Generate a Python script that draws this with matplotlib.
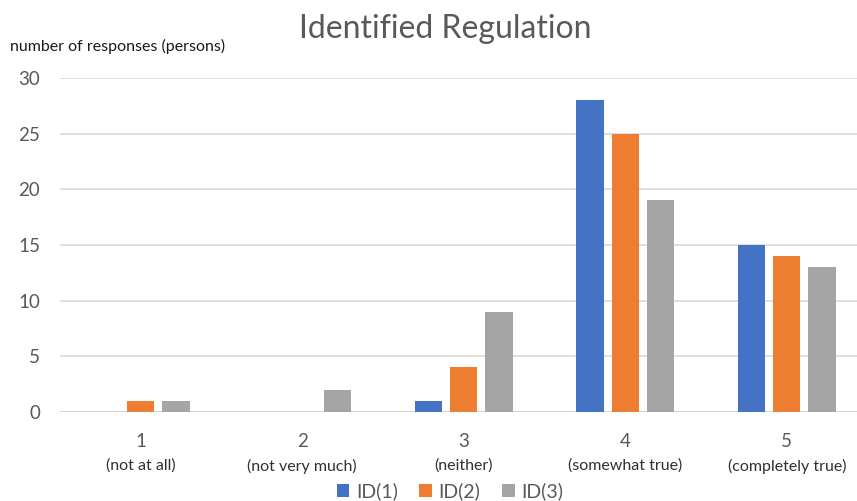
import matplotlib.pyplot as plt
import numpy as np

plt.rcParams["font.family"] = ["Lato", "DejaVu Sans"]

categories = ["1", "2", "3", "4", "5"]
descriptions = ["(not at all)", "(not very much)", "(neither)", "(somewhat true)", "(completely true)"]
series_names = ["ID(1)", "ID(2)", "ID(3)"]
id1 = [0, 0, 1, 28, 15]
id2 = [1, 0, 4, 25, 14]
id3 = [1, 2, 9, 19, 13]
colors = ["#4472C4", "#ED7D31", "#A5A5A5"]

W, H = 857, 501
fig = plt.figure(figsize=(W / 100, H / 100), dpi=100)
ax = fig.add_axes([60 / W, 1 - 412 / H, 807.5 / W, 334 / H])

x = np.arange(len(categories))
width = 0.17
step = 0.217
for i, (vals, name, c) in enumerate(zip([id1, id2, id3], series_names, colors)):
    ax.bar(x + (i - 1) * step, vals, width, color=c, label=name, zorder=3)

ax.set_xlim(-0.5, 4.5)
ax.set_ylim(0, 30)
ax.set_yticks(range(0, 31, 5))
ax.yaxis.grid(True, color="#D9D9D9", linewidth=1.2, zorder=0)
ax.axhline(0, color="#D0D0D0", linewidth=1.8, zorder=2)
for s in ax.spines.values():
    s.set_visible(False)
ax.tick_params(axis="y", length=0, colors="#595959", labelsize=13.5, pad=14.4)

# category numbers and their descriptions under the axis
ax.set_xticks(x)
ax.set_xticklabels([])
ax.tick_params(axis="x", length=0)
for xi, cat, d in zip(x, categories, descriptions):
    ax.annotate(cat, xy=(xi, 0), xycoords=("data", "axes fraction"),
                xytext=(0, -29.5 * 0.72), textcoords="offset points",
                ha="center", va="center", fontsize=13.5, color="#595959")
    ax.annotate(d, xy=(xi, 0), xycoords=("data", "axes fraction"),
                xytext=(0, -54 * 0.72), textcoords="offset points",
                ha="center", va="center", fontsize=11.5, color="#303030")

fig.text(445 / W, 1 - 29 / H, "Identified Regulation", ha="center", va="center",
         fontsize=23, color="#595959")
fig.text(10 / W, 1 - 46 / H, "number of responses (persons)", ha="left", va="center",
         fontsize=11.5, color="#1a1a1a")

fig.legend(loc="center", bbox_to_anchor=(450 / W, 1 - 491 / H), ncol=3, frameon=False,
           fontsize=14, handlelength=0.65, handleheight=0.65, columnspacing=1.1,
           handletextpad=0.35, labelcolor="#595959")

fig.savefig("out.png", dpi=100)
